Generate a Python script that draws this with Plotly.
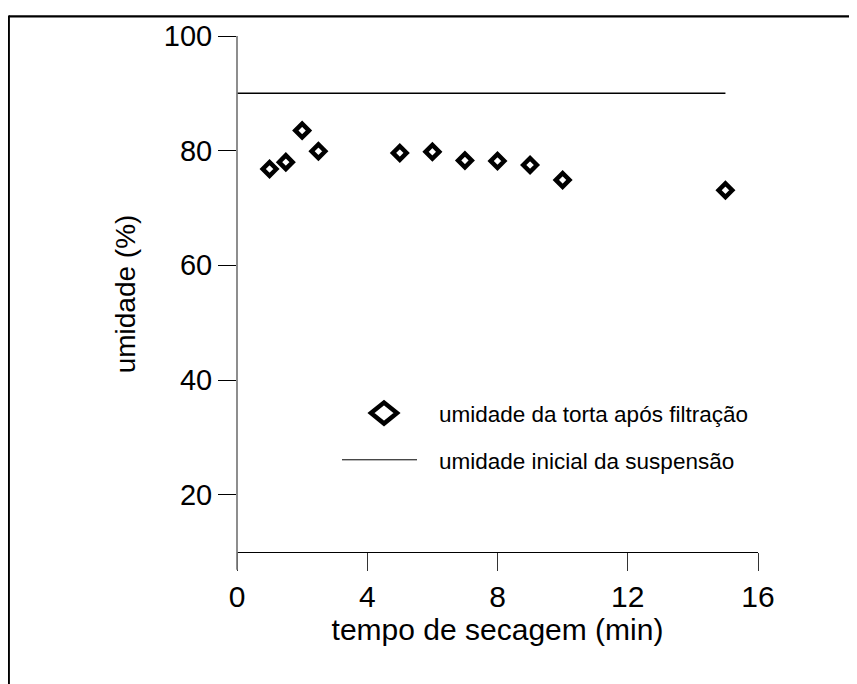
import plotly.graph_objects as go

# ---- data ----
time_min = [1, 1.5, 2, 2.5, 5, 6, 7, 8, 9, 10, 15]
moisture_cake = [76.8, 78.0, 83.5, 79.9, 79.6, 79.8, 78.3, 78.2, 77.5, 74.9, 73.1]
initial_time = [0, 15]
initial_moisture = [90, 90]
x_ticks = [0, 4, 8, 12, 16]
y_ticks = [20, 40, 60, 80, 100]
legend_labels = ["umidade da torta após filtração", "umidade inicial da suspensão"]

FONT = "Arial, Liberation Sans, sans-serif"
OFF = 8  # default page body margin
W, H = 857 - OFF, 684 - OFF
L = 237 - OFF
T = 33 - OFF
R = W - (758 - OFF)
B = H - (551.7 - OFF)
PW, PH = W - L - R, H - T - B


def px(xpage):
    return (xpage - OFF - L) / PW


def py(ypage):
    return (H - B - (ypage - OFF)) / PH


fig = go.Figure()
fig.add_trace(go.Scatter(
    x=initial_time, y=initial_moisture, mode="lines",
    line=dict(color="black", width=1.5), name=legend_labels[1],
    showlegend=False, cliponaxis=False))
fig.add_trace(go.Scatter(
    x=time_min, y=moisture_cake, mode="markers",
    marker=dict(symbol="diamond", size=10.5, color="white",
                line=dict(color="black", width=4.5)),
    name=legend_labels[0], showlegend=False, cliponaxis=False))

shapes = [
    # outer frame (left and top edges visible)
    dict(type="line", xref="paper", yref="paper", x0=px(8.9), x1=px(8.9),
         y0=py(12.3), y1=py(720), line=dict(color="black", width=2)),
    dict(type="line", xref="paper", yref="paper", x0=px(8.9), x1=px(900),
         y0=py(13.3), y1=py(13.3), line=dict(color="black", width=2.2)),
    # y axis line extending below the x axis
    dict(type="line", xref="paper", yref="paper", x0=0, x1=0,
         y0=py(569.5), y1=1, line=dict(color="#7a7a7a", width=1.7)),
    # legend line sample
    dict(type="line", xref="paper", yref="paper", x0=px(342), x1=px(417),
         y0=py(459), y1=py(459), line=dict(color="black", width=1)),
    # legend diamond sample
    dict(type="path", xref="paper", yref="paper", xsizemode="pixel", ysizemode="pixel",
         xanchor=px(384), yanchor=py(412),
         path="M -13 0 L 0 10.5 L 13 0 L 0 -10.5 Z",
         fillcolor="white", line=dict(color="black", width=4.5)),
]

annotations = [
    dict(text=legend_labels[0], xref="paper", yref="paper", x=px(437), y=py(413),
         xanchor="left", yanchor="middle", showarrow=False,
         font=dict(family=FONT, size=22.5, color="black")),
    dict(text=legend_labels[1], xref="paper", yref="paper", x=px(437), y=py(461),
         xanchor="left", yanchor="middle", showarrow=False,
         font=dict(family=FONT, size=22.5, color="black")),
]

fig.update_layout(
    width=W, height=H,
    margin=dict(l=L, r=R, t=T, b=B, pad=0),
    paper_bgcolor="white", plot_bgcolor="white",
    font=dict(family=FONT, color="black"),
    shapes=shapes, annotations=annotations,
    xaxis=dict(range=[0, 16], tickvals=x_ticks, ticks="outside", ticklen=18,
               tickwidth=1, tickcolor="#333", showline=True, linecolor="black",
               linewidth=1, showgrid=False, zeroline=False,
               tickfont=dict(family=FONT, size=30, color="black"),
               title=dict(text="tempo de secagem (min)", standoff=3,
                          font=dict(family=FONT, size=30, color="black"))),
    yaxis=dict(range=[10, 100], tickvals=y_ticks, ticks="outside", ticklen=18,
               tickwidth=1, tickcolor="black", showline=False, showgrid=False,
               zeroline=False,
               tickfont=dict(family=FONT, size=29, color="black"),
               title=dict(text="umidade (%)", standoff=20,
                          font=dict(family=FONT, size=28, color="black"))),
)

fig.write_html("out.html")
